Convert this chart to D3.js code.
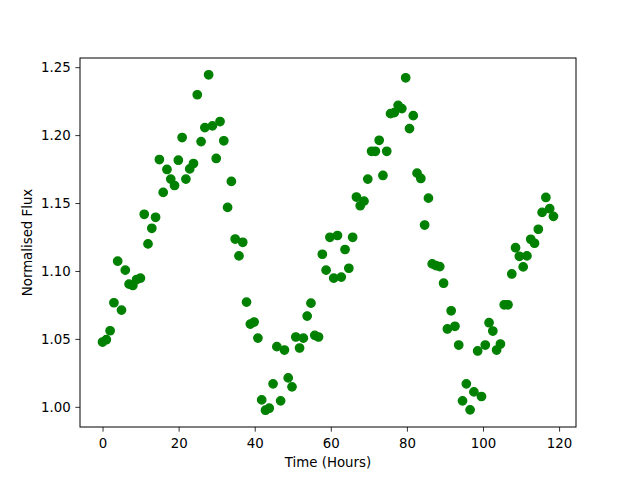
<!DOCTYPE html>
<html>
<head>
<meta charset="utf-8">
<script src="https://cdn.jsdelivr.net/npm/d3@7"></script>
<style>
  body { margin: 0; background: #fff; }
  svg text { font-family: "DejaVu Sans", sans-serif; fill: #000; }
</style>
</head>
<body>
<figure id="scatter" style="margin:0"></figure>
<script>
// time of each observation, in hours
const hours = [
  0, 1.00, 1.99, 2.99, 3.98, 4.98, 5.98, 6.97, 7.97, 8.96,
  9.96, 10.96, 11.95, 12.95, 13.94, 14.94, 15.94, 16.93, 17.93, 18.92,
  19.92, 20.92, 21.91, 22.91, 23.90, 24.90, 25.90, 26.89, 27.89, 28.88,
  29.88, 30.88, 31.87, 32.87, 33.86, 34.86, 35.86, 36.85, 37.85, 38.84,
  39.84, 40.84, 41.83, 42.83, 43.82, 44.82, 45.82, 46.81, 47.81, 48.80,
  49.80, 50.80, 51.79, 52.79, 53.78, 54.78, 55.78, 56.77, 57.77, 58.76,
  59.76, 60.76, 61.75, 62.75, 63.74, 64.74, 65.74, 66.73, 67.73, 68.72,
  69.72, 70.72, 71.71, 72.71, 73.70, 74.70, 75.70, 76.69, 77.69, 78.68,
  79.68, 80.68, 81.67, 82.67, 83.66, 84.66, 85.66, 86.65, 87.65, 88.64,
  89.64, 90.64, 91.63, 92.63, 93.62, 94.62, 95.62, 96.61, 97.61, 98.60,
  99.60, 100.60, 101.59, 102.59, 103.58, 104.58, 105.58, 106.57, 107.57, 108.56,
  109.56, 110.56, 111.55, 112.55, 113.54, 114.54, 115.54, 116.53, 117.53, 118.52
];

// normalised flux
const flux = [
  1.0477, 1.0494, 1.0560, 1.0766, 1.1072, 1.0712, 1.1006, 1.0903, 1.0893, 1.0937,
  1.0947, 1.1417, 1.1199, 1.1314, 1.1395, 1.1820, 1.1578, 1.1747, 1.1676, 1.1629,
  1.1815, 1.1982, 1.1676, 1.1751, 1.1791, 1.2297, 1.1952, 1.2055, 1.2444, 1.2068,
  1.1828, 1.2100, 1.1958, 1.1468, 1.1659, 1.1235, 1.1111, 1.1211, 1.0771, 1.0609,
  1.0624, 1.0506, 1.0051, 0.9975, 0.9990, 1.0169, 1.0443, 1.0044, 1.0418, 1.0213,
  1.0147, 1.0514, 1.0433, 1.0506, 1.0668, 1.0763, 1.0526, 1.0514, 1.1123, 1.1006,
  1.1248, 1.0947, 1.1261, 1.0955, 1.1158, 1.1020, 1.1248, 1.1544, 1.1480, 1.1514,
  1.1676, 1.1881, 1.1881, 1.1962, 1.1703, 1.1881, 1.2158, 1.2165, 1.2219, 1.2195,
  1.2422, 1.2048, 1.2143, 1.1720, 1.1681, 1.1338, 1.1536, 1.1052, 1.1039, 1.1032,
  1.0910, 1.0573, 1.0707, 1.0593, 1.0455, 1.0044, 1.0169, 0.9978, 1.0110, 1.0411,
  1.0076, 1.0455, 1.0619, 1.0558, 1.0418, 1.0462, 1.0751, 1.0751, 1.0978, 1.1171,
  1.1108, 1.1030, 1.1111, 1.1233, 1.1204, 1.1307, 1.1431, 1.1541, 1.1458, 1.1402
];

const xTicks = [0, 20, 40, 60, 80, 100, 120];
const yTicks = [1.00, 1.05, 1.10, 1.15, 1.20, 1.25];

const width = 640, height = 480;
const margin = { top: 58, right: 64, bottom: 53, left: 80 };
const tickLen = 4.67, tickPad = 4.67;

const points = hours.map((h, i) => ({ h: h, f: flux[i] }));

// matplotlib-style 5% padding round the data
function padded(ext) {
  const p = (ext[1] - ext[0]) * 0.05;
  return [ext[0] - p, ext[1] + p];
}

const x = d3.scaleLinear()
  .domain(padded(d3.extent(hours)))
  .range([margin.left, width - margin.right]);

const y = d3.scaleLinear()
  .domain(padded(d3.extent(flux)))
  .range([height - margin.bottom, margin.top]);

const svg = d3.select("figure#scatter")
  .append("svg")
  .attr("width", width)
  .attr("height", height);

svg.append("rect")
  .attr("width", width)
  .attr("height", height)
  .attr("fill", "#fff");

// points
svg.append("g")
  .selectAll("circle")
  .data(points)
  .enter()
  .append("circle")
  .attr("cx", d => x(d.h))
  .attr("cy", d => y(d.f))
  .attr("r", 4.2)
  .attr("fill", "green")
  .attr("stroke", "green")
  .attr("stroke-width", 1.33);

// axes
const xAxis = d3.axisBottom(x)
  .tickValues(xTicks)
  .tickFormat(d3.format("d"))
  .tickSizeInner(tickLen)
  .tickSizeOuter(0)
  .tickPadding(tickPad);

const yAxis = d3.axisLeft(y)
  .tickValues(yTicks)
  .tickFormat(d3.format(".2f"))
  .tickSizeInner(tickLen)
  .tickSizeOuter(0)
  .tickPadding(tickPad);

const gx = svg.append("g")
  .attr("transform", "translate(0," + (height - margin.bottom) + ")")
  .call(xAxis);

const gy = svg.append("g")
  .attr("transform", "translate(" + margin.left + ",0)")
  .call(yAxis);

[gx, gy].forEach(g => {
  g.select(".domain").remove();
  g.selectAll(".tick line").attr("stroke", "#000").attr("stroke-width", 0.8);
  g.selectAll(".tick text")
    .style("font-family", "'DejaVu Sans', sans-serif")
    .style("font-size", "13.33px")
    .attr("fill", "#000");
});
gx.selectAll(".tick text").attr("dy", "0.9em");
gy.selectAll(".tick text").attr("dy", "0.35em");

// frame
svg.append("rect")
  .attr("x", margin.left)
  .attr("y", margin.top)
  .attr("width", width - margin.left - margin.right)
  .attr("height", height - margin.top - margin.bottom)
  .attr("fill", "none")
  .attr("stroke", "#000")
  .attr("stroke-width", 1);

// labels
svg.append("text")
  .attr("x", (margin.left + width - margin.right) / 2)
  .attr("y", 467.3)
  .attr("text-anchor", "middle")
  .style("font-size", "13.33px")
  .text("Time (Hours)");

svg.append("text")
  .attr("transform", "translate(31.5," + ((margin.top + height - margin.bottom) / 2) + ") rotate(-90)")
  .attr("text-anchor", "middle")
  .style("font-size", "13.33px")
  .text("Normalised Flux");
</script>
</body>
</html>
